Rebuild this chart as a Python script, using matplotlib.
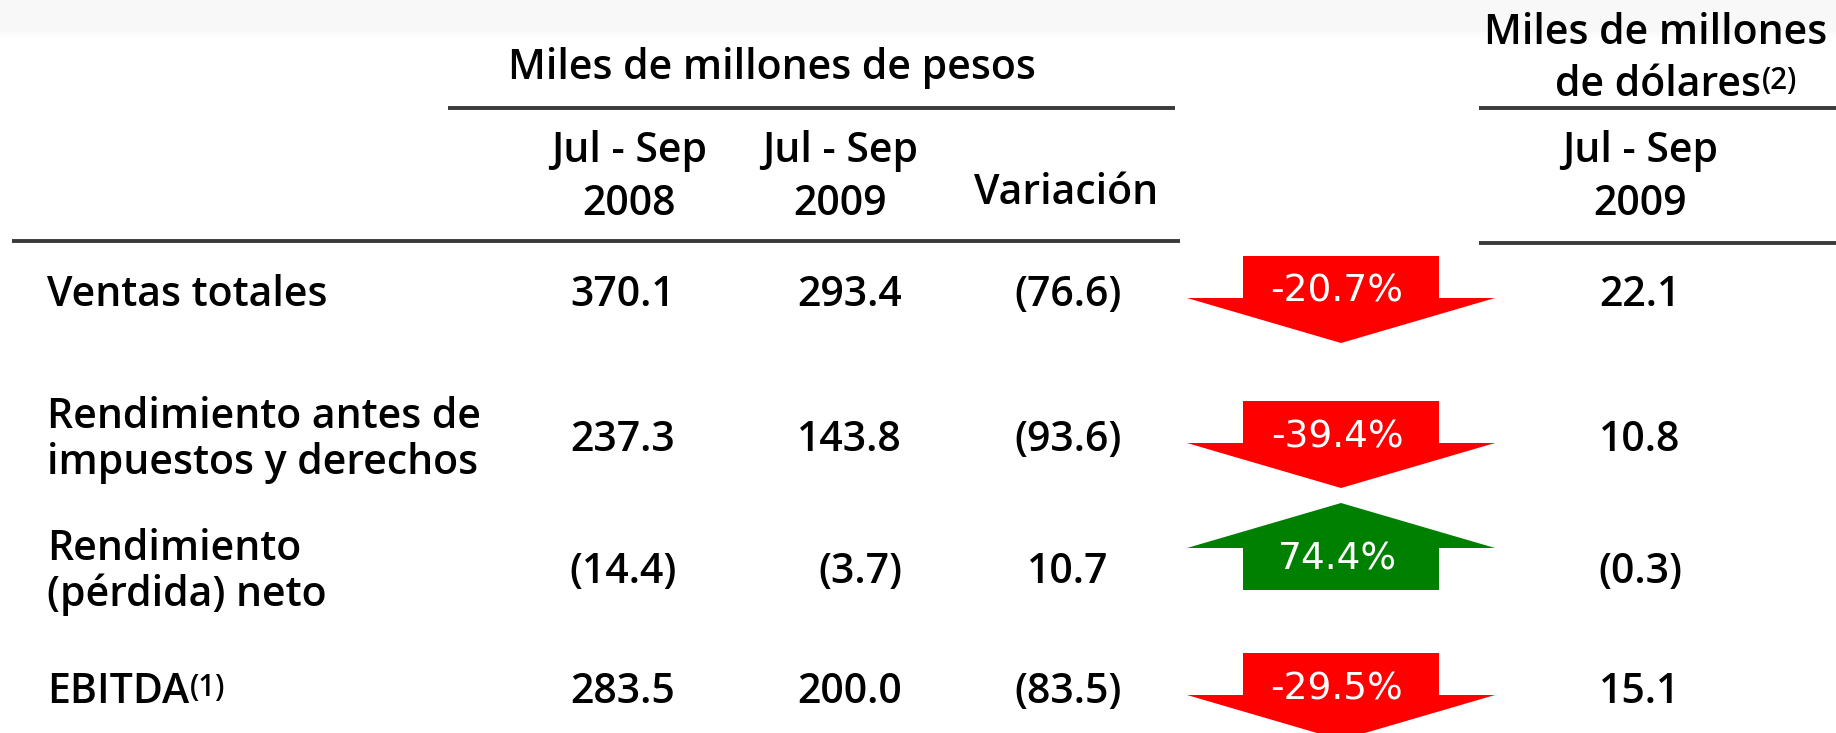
import numpy as np
import matplotlib.pyplot as plt
from matplotlib.patches import Polygon

# Table data
row_labels = ["Ventas totales",
              "Rendimiento antes de\nimpuestos y derechos",
              "Rendimiento\n(pérdida) neto",
              "EBITDA"]
row_sups = ["", "", "", "(1)"]
q3_2008 = ["370.1", "237.3", "(14.4)", "283.5"]
q3_2009 = ["293.4", "143.8", "(3.7)", "200.0"]
variacion = ["(76.6)", "(93.6)", "10.7", "(83.5)"]
pct_change = ["-20.7%", "-39.4%", "74.4%", "-29.5%"]
usd_2009 = ["22.1", "10.8", "(0.3)", "15.1"]

W, H = 1836, 733
FONT = "Open Sans"
FS = 29.5
PCT_FS = 27

fig = plt.figure(figsize=(W / 100, H / 100), dpi=100)
ax = fig.add_axes([0, 0, 1, 1])
ax.set_xlim(0, W)
ax.set_ylim(H, 0)
ax.axis("off")

# faint grey band at the top
grad = np.ones((40, 2))
grad[:30] = 0.972
grad[30:] = np.linspace(0.972, 1.0, 10)[:, None]
ax.imshow(grad, cmap="gray", vmin=0, vmax=1, extent=(0, W, 40, 0),
          aspect="auto", zorder=0)


def txt(x, y, s, ha="center", sup=None, **kw):
    t = ax.text(x, y, s, ha=ha, va="center", fontsize=FS, family=FONT,
                fontweight="semibold", color="black", linespacing=1.12, **kw)
    if sup:
        fig.canvas.draw()
        bb = t.get_window_extent().transformed(ax.transData.inverted())
        ax.text(bb.x1 + 1, bb.y1 + 2, sup, ha="left", va="top",
                fontsize=FS * 0.72, family=FONT, fontweight="semibold")
    return t


# headers
line_kw = dict(color="#3a3a3a", lw=2.8, solid_capstyle="butt")
txt(772, 68, "Miles de millones de pesos")
ax.plot([448, 1175], [108, 108], **line_kw)
txt(629, 151, "Jul - Sep")
txt(629, 204, "2008")
txt(840, 151, "Jul - Sep")
txt(840, 204, "2009")
txt(1066, 193, "Variación")
ax.plot([12, 1180], [241, 241], **line_kw)

txt(1656, 33, "Miles de millones")
txt(1658, 85, "de dólares", sup="(2)")
ax.plot([1479, W], [108, 108], **line_kw)
txt(1640, 151, "Jul - Sep")
txt(1640, 204, "2009")
ax.plot([1479, W], [243, 243], **line_kw)

# rows
row_y = [295, 440, 572, 692]
col_x = [623, 902, 1068, 1640]
col_ha = ["center", "right", "center", "center"]
cols = [q3_2008, q3_2009, variacion, usd_2009]

arrow_cx = 1341
shaft_hw, wing_hw = 98, 154

for i, y in enumerate(row_y):
    txt(47, y, row_labels[i], ha="left", sup=row_sups[i] or None)
    for x, ha, vals in zip(col_x, col_ha, cols):
        txt(x, y, vals[i], ha=ha)

    up = not pct_change[i].startswith("-")
    if up:
        a, d = y - 19, -1
        ty = y - 12
        color = "#008000"
    else:
        a, d = y - 2, 1
        ty = y - 3
        color = "#ff0000"
    pts = [(arrow_cx - shaft_hw, a - d * 37), (arrow_cx + shaft_hw, a - d * 37),
           (arrow_cx + shaft_hw, a + d * 5), (arrow_cx + wing_hw, a + d * 5),
           (arrow_cx, a + d * 50), (arrow_cx - wing_hw, a + d * 5),
           (arrow_cx - shaft_hw, a + d * 5)]
    ax.add_patch(Polygon(pts, closed=True, facecolor=color, edgecolor="none",
                         zorder=2))
    ax.text(arrow_cx - 4, ty, pct_change[i], ha="center", va="center",
            fontsize=PCT_FS, family="DejaVu Sans", color="white", zorder=3)

fig.savefig("out.png", dpi=100)
